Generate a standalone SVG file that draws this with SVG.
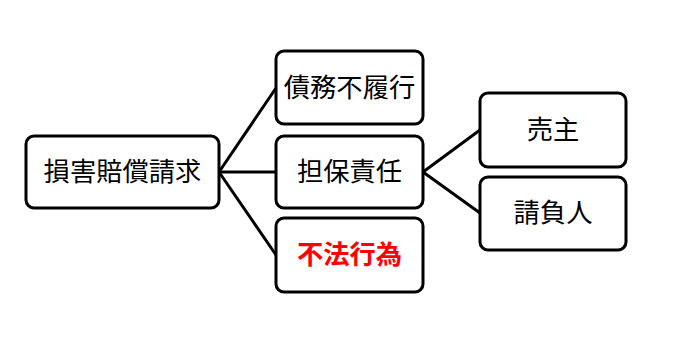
<svg xmlns="http://www.w3.org/2000/svg" width="700" height="364" viewBox="0 0 700 364">
<style>
.box{fill:#fff;stroke:#000;stroke-width:3}
.t{font-family:"Noto Sans CJK JP","Noto Sans CJK SC",sans-serif;font-size:26.3px;fill:#000;text-anchor:middle}
.red{fill:#ff0000;font-weight:bold}
.c{stroke:#000;stroke-width:3;fill:none}
</style>
<rect width="700" height="364" fill="#fff"/>
<g id="connectors">
<line class="c" x1="219" y1="172" x2="276" y2="88"/>
<line class="c" x1="219" y1="172" x2="276" y2="172"/>
<line class="c" x1="219" y1="172" x2="276" y2="255"/>
<line class="c" x1="423" y1="172" x2="480" y2="130"/>
<line class="c" x1="423" y1="172" x2="480" y2="213"/>
</g>
<g id="n1"><rect class="box" x="26" y="136" width="193" height="72" rx="8"/><text class="t" x="122.5" y="181">損害賠償請求</text></g>
<g id="n2"><rect class="box" x="276" y="51" width="147" height="73" rx="8"/><text class="t" x="349.5" y="97">債務不履行</text></g>
<g id="n3"><rect class="box" x="276" y="136" width="147" height="72" rx="8"/><text class="t" x="349.5" y="181">担保責任</text></g>
<g id="n4"><rect class="box" x="276" y="218" width="147" height="74" rx="8"/><text class="t red" x="349.5" y="264">不法行為</text></g>
<g id="n5"><rect class="box" x="480" y="93" width="146" height="74" rx="8"/><text class="t" x="553" y="139">売主</text></g>
<g id="n6"><rect class="box" x="480" y="177" width="146" height="73" rx="8"/><text class="t" x="553" y="222">請負人</text></g>
</svg>
